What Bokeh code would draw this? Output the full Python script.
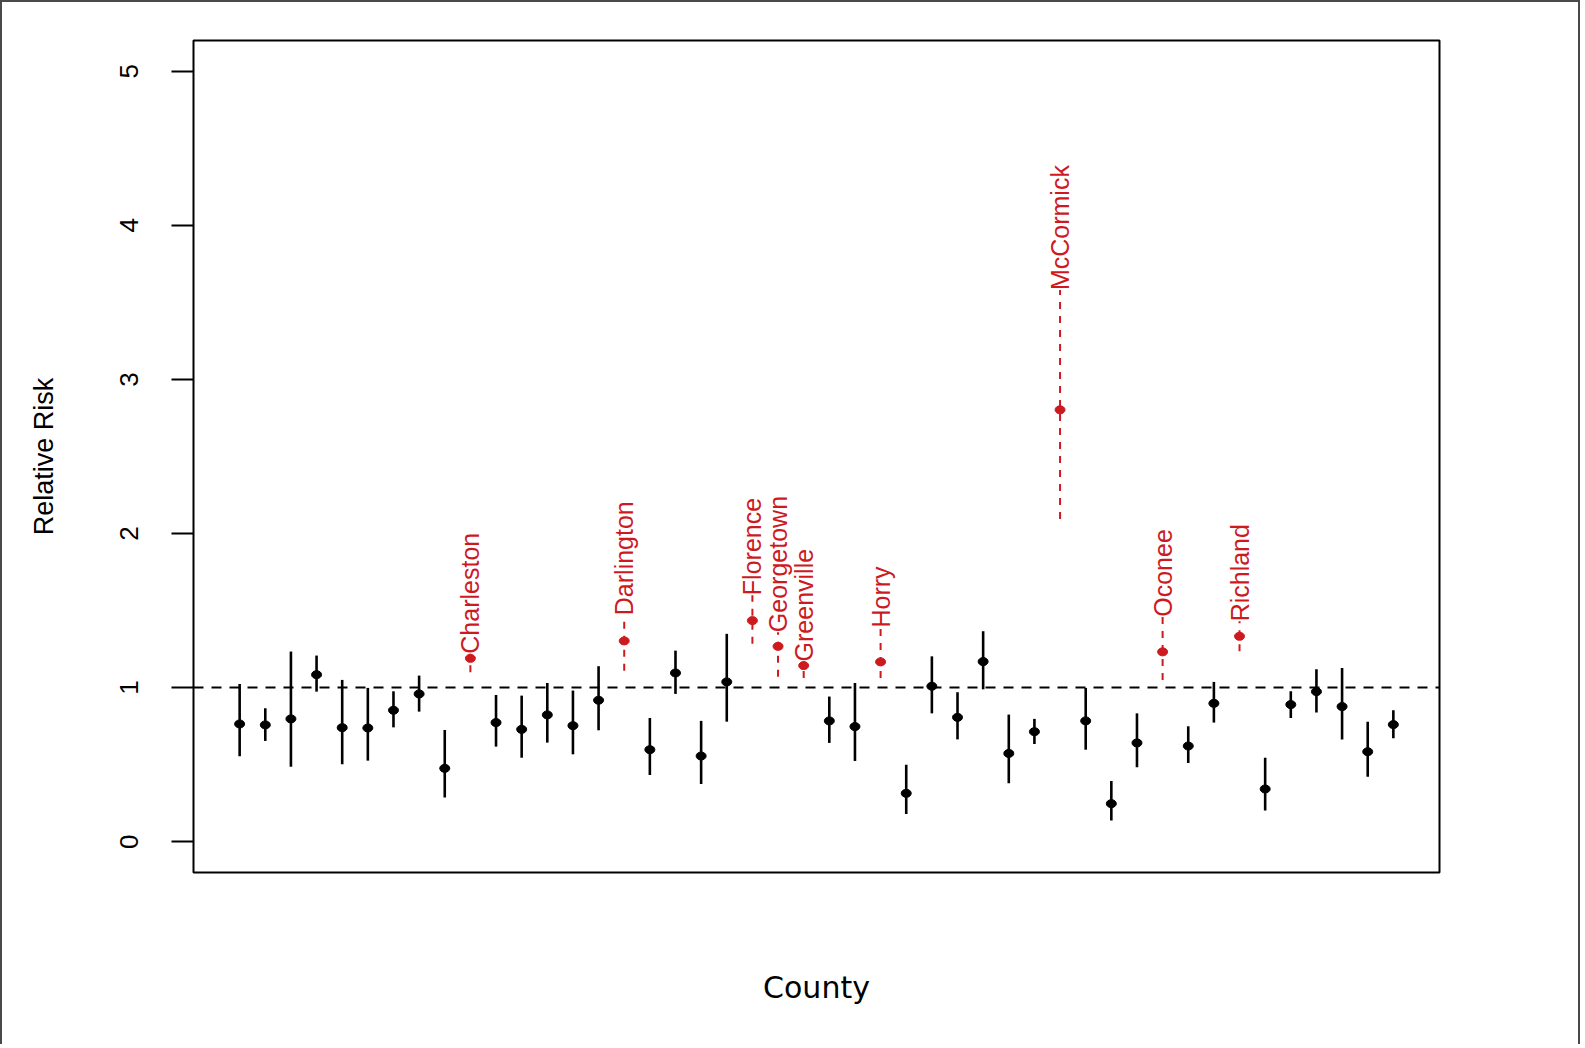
import math
from bokeh.plotting import figure
from bokeh.models import Span, FixedTicker, ColumnDataSource
from bokeh.core.properties import value
from bokeh.embed import file_html
from bokeh.resources import INLINE

# ---- data ----
counties = [
    "Abbeville", "Aiken", "Allendale", "Anderson", "Bamberg", "Barnwell",
    "Beaufort", "Berkeley", "Calhoun", "Charleston", "Cherokee", "Chester",
    "Chesterfield", "Clarendon", "Colleton", "Darlington", "Dillon",
    "Dorchester", "Edgefield", "Fairfield", "Florence", "Georgetown",
    "Greenville", "Greenwood", "Hampton", "Horry", "Jasper", "Kershaw",
    "Lancaster", "Laurens", "Lee", "Lexington", "McCormick", "Marion",
    "Marlboro", "Newberry", "Oconee", "Orangeburg", "Pickens", "Richland",
    "Saluda", "Spartanburg", "Sumter", "Union", "Williamsburg", "York",
]
rr = [
    0.764, 0.758, 0.797, 1.084, 0.740, 0.738, 0.853, 0.959, 0.476, 1.190,
    0.773, 0.729, 0.823, 0.753, 0.918, 1.303, 0.597, 1.095, 0.556, 1.037,
    1.435, 1.268, 1.143, 0.784, 0.747, 1.167, 0.314, 1.009, 0.807, 1.169,
    0.573, 0.714, 2.803, 0.784, 0.247, 0.641, 1.232, 0.621, 0.898, 1.333,
    0.342, 0.890, 0.974, 0.877, 0.584, 0.760,
]
lower = [
    0.554, 0.654, 0.487, 0.974, 0.502, 0.526, 0.742, 0.844, 0.286, 1.100,
    0.617, 0.545, 0.643, 0.567, 0.723, 1.110, 0.433, 0.959, 0.375, 0.779,
    1.284, 1.071, 1.063, 0.641, 0.524, 1.063, 0.180, 0.833, 0.664, 0.989,
    0.379, 0.634, 2.095, 0.597, 0.138, 0.483, 1.050, 0.511, 0.773, 1.236,
    0.203, 0.803, 0.838, 0.664, 0.422, 0.671,
]
upper = [
    1.024, 0.866, 1.234, 1.208, 1.050, 0.998, 0.976, 1.078, 0.725, 1.220,
    0.952, 0.948, 1.030, 0.981, 1.139, 1.470, 0.803, 1.240, 0.784, 1.349,
    1.600, 1.360, 1.170, 0.942, 1.030, 1.390, 0.500, 1.203, 0.970, 1.366,
    0.825, 0.797, 3.580, 0.998, 0.394, 0.833, 1.460, 0.749, 1.037, 1.430,
    0.545, 0.976, 1.119, 1.128, 0.779, 0.853,
]
y_ticks = [0, 1, 2, 3, 4, 5]
reference_rr = 1

RED = "#CD1A1F"
FONT = "Liberation Sans"
idx = list(range(1, len(counties) + 1))

sig = [l > reference_rr for l in lower]
norm = ColumnDataSource(dict(
    x=[i for i, s in zip(idx, sig) if not s],
    rr=[v for v, s in zip(rr, sig) if not s],
    lo=[v for v, s in zip(lower, sig) if not s],
    hi=[v for v, s in zip(upper, sig) if not s],
))
high = ColumnDataSource(dict(
    x=[i for i, s in zip(idx, sig) if s],
    rr=[v for v, s in zip(rr, sig) if s],
    lo=[v for v, s in zip(lower, sig) if s],
    hi=[v for v, s in zip(upper, sig) if s],
    name=[c for c, s in zip(counties, sig) if s],
))

n = len(counties)
pad_x = (n - 1) * 0.04
pad_y = (max(y_ticks) - min(y_ticks)) * 0.04

p = figure(
    width=1580, height=1044,
    x_range=(1 - pad_x, n + pad_x),
    y_range=(min(y_ticks) - pad_y, max(y_ticks) + pad_y),
    output_backend="svg", toolbar_location=None,
    min_border_left=191, min_border_right=143,
    min_border_top=38, min_border_bottom=174,
)
p.styles = {
    "border-left": "2px solid #4a4a4a",
    "border-top": "2px solid #4a4a4a",
    "border-right": "2px solid #4a4a4a",
}
p.xgrid.visible = False
p.ygrid.visible = False
p.background_fill_color = "white"
p.border_fill_color = "white"
p.outline_line_color = "black"
p.outline_line_width = 2

# y axis
p.yaxis.ticker = FixedTicker(ticks=y_ticks, minor_ticks=[])
p.yaxis.axis_line_color = None
p.yaxis.major_tick_out = 22
p.yaxis.major_tick_in = 0
p.yaxis.major_tick_line_width = 2
p.yaxis.minor_tick_line_color = None
p.yaxis.major_label_orientation = "vertical"
p.yaxis.major_label_standoff = 33
p.yaxis.major_label_text_font = FONT
p.yaxis.major_label_text_font_size = "26px"
p.yaxis.major_label_text_color = "black"
p.yaxis.axis_label = "Relative Risk"
p.yaxis.axis_label_text_font = FONT
p.yaxis.axis_label_text_font_size = "27px"
p.yaxis.axis_label_text_font_style = "normal"
p.yaxis.axis_label_text_color = "black"
p.yaxis.axis_label_standoff = 59

# x axis: label only
p.xaxis.ticker = FixedTicker(ticks=[], minor_ticks=[])
p.xaxis.axis_line_color = None
p.xaxis.major_tick_line_color = None
p.xaxis.minor_tick_line_color = None
p.xaxis.major_tick_out = 0
p.xaxis.axis_label = "County"
p.xaxis.axis_label_text_font = "DejaVu Sans"
p.xaxis.axis_label_text_font_size = "30px"
p.xaxis.axis_label_text_font_style = "normal"
p.xaxis.axis_label_text_color = "black"
p.xaxis.axis_label_standoff = 97

# reference line at RR = 1
p.add_layout(Span(location=reference_rr, dimension="width", line_color="black",
                  line_width=2, line_dash="10 8"))

# non-significant counties
p.segment(x0="x", y0="lo", x1="x", y1="hi", source=norm,
          line_color="black", line_width=2.6)
p.ellipse(x="x", y="rr", width=10, height=8, width_units="screen",
          height_units="screen", source=norm, fill_color="black",
          line_color="black")

# significant counties
p.segment(x0="x", y0="lo", x1="x", y1="hi", source=high,
          line_color=RED, line_width=2, line_dash="7 7")
p.ellipse(x="x", y="rr", width=10, height=8, width_units="screen",
          height_units="screen", source=high, fill_color=RED,
          line_color=RED)
p.text(x="x", y="hi", text="name", source=high, angle=math.pi / 2,
       text_align="left", text_baseline="middle",
       text_font=value(FONT), text_font_size="25px",
       text_color=RED)

open("out.html", "w").write(file_html(p, INLINE))
